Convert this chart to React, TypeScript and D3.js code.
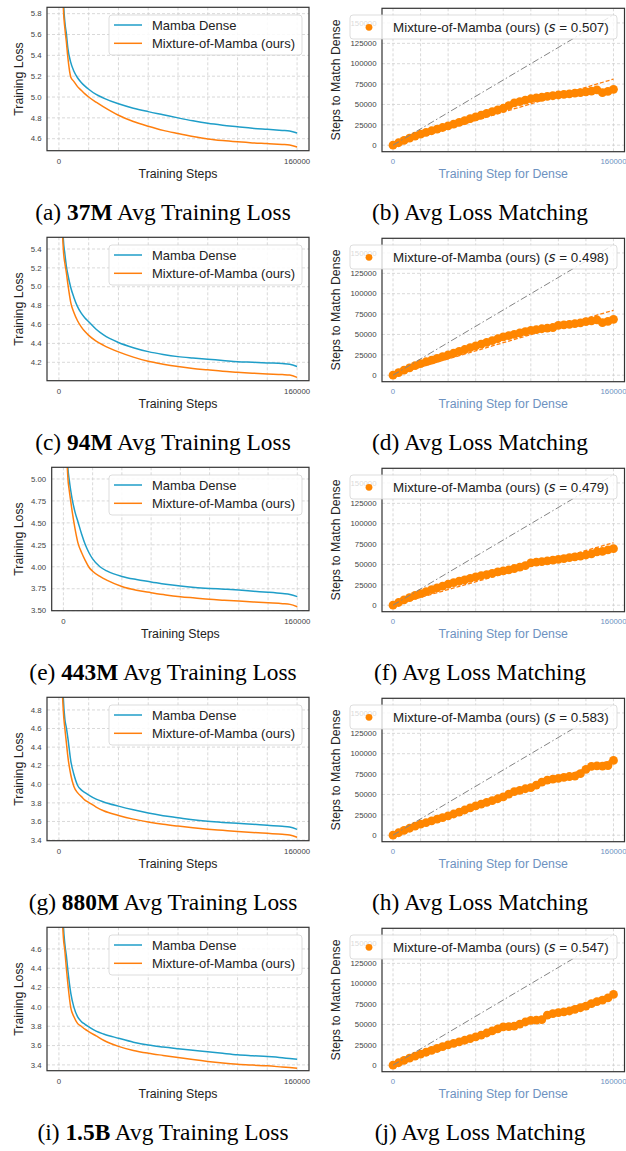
import React from 'react';
import * as d3 from 'd3';

const SANS = '"Liberation Sans", Arial, sans-serif';
const SERIF = '"Liberation Serif", "Times New Roman", serif';
const BLUE = '#1f9ec8';
const ORANGE = '#ff7f0e';
const DOT = '#ff8600';
const STEEL = '#6d92c1';

// training steps for the loss curves
const lossSteps = [1000, 2000, 3000, 4000, 5000, 6000, 8000, 10000, 12500, 15000, 17500, 20000, 25000, 30000,
  40000, 50000, 60000, 70000, 80000, 90000, 100000, 110000, 120000, 130000, 140000, 150000, 155000, 160000];

const dense37M = [8.0, 6.6, 5.95, 5.72, 5.61, 5.47, 5.33, 5.25, 5.185, 5.14, 5.105, 5.075, 5.025, 4.99,
  4.935, 4.893, 4.86, 4.83, 4.80, 4.772, 4.748, 4.73, 4.715, 4.70, 4.69, 4.68, 4.675, 4.655];
const mom37M = [7.8, 6.4, 5.85, 5.66, 5.53, 5.38, 5.19, 5.15, 5.10, 5.065, 5.03, 5.0, 4.95, 4.905,
  4.825, 4.765, 4.72, 4.68, 4.65, 4.622, 4.598, 4.582, 4.57, 4.56, 4.553, 4.545, 4.54, 4.52];
const dense94M = [7.5, 6.0, 5.5, 5.35, 5.22, 5.13, 4.99, 4.89, 4.79, 4.72, 4.67, 4.63, 4.55, 4.49,
  4.41, 4.355, 4.313, 4.283, 4.26, 4.245, 4.232, 4.22, 4.207, 4.2, 4.193, 4.187, 4.18, 4.155];
const mom94M = [7.3, 5.8, 5.39, 5.25, 5.15, 5.03, 4.83, 4.73, 4.64, 4.575, 4.525, 4.485, 4.425, 4.38,
  4.31, 4.255, 4.21, 4.18, 4.155, 4.135, 4.12, 4.105, 4.095, 4.085, 4.077, 4.07, 4.065, 4.04];
const dense443M = [7.0, 5.7, 5.15, 4.99, 4.87, 4.77, 4.62, 4.51, 4.37, 4.25, 4.16, 4.09, 4.0, 3.95,
  3.89, 3.855, 3.828, 3.80, 3.78, 3.765, 3.754, 3.745, 3.735, 3.722, 3.71, 3.695, 3.685, 3.66];
const mom443M = [6.8, 5.5, 5.03, 4.87, 4.75, 4.63, 4.43, 4.27, 4.16, 4.07, 3.995, 3.95, 3.89, 3.845,
  3.775, 3.732, 3.705, 3.68, 3.66, 3.645, 3.63, 3.62, 3.61, 3.6, 3.59, 3.58, 3.572, 3.545];
const dense880M = [6.8, 5.4, 4.92, 4.7, 4.61, 4.5, 4.25, 4.11, 3.99, 3.94, 3.91, 3.885, 3.84, 3.81,
  3.765, 3.725, 3.69, 3.662, 3.64, 3.618, 3.602, 3.59, 3.58, 3.57, 3.558, 3.548, 3.54, 3.515];
const mom880M = [6.6, 5.2, 4.78, 4.6, 4.45, 4.3, 4.1, 3.98, 3.91, 3.87, 3.83, 3.805, 3.755, 3.715,
  3.665, 3.625, 3.595, 3.57, 3.55, 3.532, 3.517, 3.505, 3.493, 3.482, 3.472, 3.462, 3.455, 3.43];
const dense1_5B = [6.6, 5.3, 4.85, 4.65, 4.53, 4.38, 4.14, 4.0, 3.9, 3.85, 3.82, 3.795, 3.75, 3.72,
  3.676, 3.635, 3.605, 3.585, 3.568, 3.552, 3.536, 3.52, 3.505, 3.495, 3.486, 3.474, 3.466, 3.459];
const mom1_5B = [6.4, 5.1, 4.72, 4.58, 4.4, 4.24, 3.99, 3.9, 3.83, 3.8, 3.77, 3.745, 3.7, 3.655,
  3.592, 3.55, 3.521, 3.498, 3.476, 3.455, 3.436, 3.42, 3.407, 3.398, 3.39, 3.378, 3.372, 3.366];

// dense step -> MoM steps needed to match the loss
const matchSteps = [0, 4000, 8000, 12000, 16000, 20000, 24000, 28000, 32000, 36000, 40000, 44000, 48000,
  52000, 56000, 60000, 64000, 68000, 72000, 76000, 80000, 84000, 88000, 92000, 96000, 100000, 104000,
  108000, 112000, 116000, 120000, 124000, 128000, 132000, 136000, 140000, 144000, 148000, 152000, 156000, 160000];
const match37M = [0, 3000, 5800, 8600, 11200, 13500, 15700, 17700, 19700, 21700, 23700, 25900, 28000, 30200,
  32500, 34700, 36900, 39100, 41200, 43300, 45300, 48500, 52000, 53500, 55200, 57000, 58000, 58800, 59800,
  60700, 61600, 62300, 63000, 63800, 64500, 65500, 66300, 68000, 64500, 66000, 68500];
const match94M = [0, 3200, 6200, 9000, 11700, 14300, 16500, 18600, 20700, 22800, 24900, 27100, 29300, 31500,
  33700, 35900, 38100, 40300, 42500, 44700, 46900, 48500, 50200, 51800, 53400, 55000, 56000, 57000, 57800,
  58500, 61200, 61800, 62400, 63200, 64300, 65700, 66600, 68000, 64500, 66000, 68500];
const match443M = [0, 3300, 6400, 9300, 11900, 14300, 16700, 19000, 21300, 23500, 25700, 27600, 29400, 31100,
  33000, 34700, 36200, 37600, 39000, 40800, 42000, 43300, 45000, 46800, 48500, 52000, 52800, 53500, 54300,
  55300, 56300, 57200, 58300, 59200, 60300, 61600, 63000, 65500, 66000, 68000, 69300];
const match880M = [0, 3000, 5800, 8500, 11000, 13500, 15500, 17500, 19600, 21600, 23700, 26000, 28400, 30900,
  33400, 35900, 38100, 40300, 42500, 44700, 46900, 50500, 53500, 55000, 57000, 58300, 61500, 65000, 67500,
  68800, 69700, 71000, 72000, 72600, 75500, 80800, 84500, 85000, 84800, 85500, 91800];
const match1_5B = [0, 3000, 5900, 8600, 11100, 13500, 15900, 18200, 20500, 22700, 24900, 26800, 28600, 30600,
  32700, 34700, 37000, 39500, 42000, 44500, 46900, 47300, 48000, 50500, 53000, 55000, 55300, 56000, 61500,
  63200, 64400, 65500, 66500, 68500, 70500, 72600, 75500, 78000, 79800, 82500, 86900];

const slopes = [0.507, 0.498, 0.479, 0.583, 0.547];
const modelSizes = ['37M', '94M', '443M', '880M', '1.5B'];
const leftTags = ['(a)', '(c)', '(e)', '(g)', '(i)'];
const rightTags = ['(b)', '(d)', '(f)', '(h)', '(j)'];

const gridSteps = [0, 20000, 40000, 60000, 80000, 100000, 120000, 140000, 160000];
const xTickLabels = [0, 160000];
const matchTicks = [0, 25000, 50000, 75000, 100000, 125000, 150000];

const lossTicks = [
  [4.6, 4.8, 5.0, 5.2, 5.4, 5.6, 5.8],
  [4.2, 4.4, 4.6, 4.8, 5.0, 5.2, 5.4],
  [3.5, 3.75, 4.0, 4.25, 4.5, 4.75, 5.0],
  [3.4, 3.6, 3.8, 4.0, 4.2, 4.4, 4.6, 4.8],
  [3.4, 3.6, 3.8, 4.0, 4.2, 4.4, 4.6],
];
const lossDomains = [[4.485, 5.861], [4.005, 5.524], [3.5, 5.133], [3.393, 4.936], [3.34, 4.824]];
const denseSeries = [dense37M, dense94M, dense443M, dense880M, dense1_5B];
const momSeries = [mom37M, mom94M, mom443M, mom880M, mom1_5B];
const matchSeries = [match37M, match94M, match443M, match880M, match1_5B];

const ROW = 230;
const GRID = { stroke: '#cfcfcf', strokeWidth: 0.8, strokeDasharray: '3,2' };

function LossPanel({ i }: { i: number }) {
  const oy = ROW * i;
  const x0 = i === 2 ? 51.7 : 47, x1 = 309;
  const y0 = oy + 7.3, y1 = oy + 150.7;
  const x = d3.scaleLinear().domain([-8000, 168000]).range([x0, x1]);
  const y = d3.scaleLinear().domain(lossDomains[i]).range([y1, y0]);
  const line = d3.line<number>().x((_, k) => x(lossSteps[k])).y(d => y(d)).curve(d3.curveMonotoneX);
  const fmt = i === 2 ? d3.format('.2f') : d3.format('.1f');
  const clip = `lclip${i}`;
  return (
    <g>
      <clipPath id={clip}><rect x={x0} y={y0} width={x1 - x0} height={y1 - y0} /></clipPath>
      {gridSteps.map(s => <line key={'v' + s} x1={x(s)} x2={x(s)} y1={y0} y2={y1} {...GRID} />)}
      {lossTicks[i].map(t => <line key={'h' + t} x1={x0} x2={x1} y1={y(t)} y2={y(t)} {...GRID} />)}
      <g clipPath={`url(#${clip})`}>
        <path d={line(denseSeries[i]) || ''} fill="none" stroke={BLUE} strokeWidth={1.5} />
        <path d={line(momSeries[i]) || ''} fill="none" stroke={ORANGE} strokeWidth={1.5} />
      </g>
      <rect x={x0} y={y0} width={x1 - x0} height={y1 - y0} fill="none" stroke="#333" strokeWidth={1.2} />
      {lossTicks[i].map(t => (
        <text key={'t' + t} x={x0 - 5.5} y={y(t)} dy="0.35em" textAnchor="end" fontSize={7.8} fill="#444" fontFamily={SANS}>{fmt(t)}</text>
      ))}
      {xTickLabels.map(t => (
        <text key={'x' + t} x={x(t)} y={oy + 163.5} textAnchor="middle" fontSize={7.8} fill="#444" fontFamily={SANS}>{t}</text>
      ))}
      <text x={(x0 + x1) / 2} y={oy + 177.5} textAnchor="middle" fontSize={12.3} fill="#222" fontFamily={SANS}>Training Steps</text>
      <text transform={`translate(22.8,${(y0 + y1) / 2}) rotate(-90)`} textAnchor="middle" fontSize={12.3} fill="#222" fontFamily={SANS}>Training Loss</text>
      <rect x={109} y={oy + 15} width={193} height={40} rx={3} fill="#fff" fillOpacity={0.85} stroke="#d4d4d4" strokeWidth={0.8} />
      <line x1={114} x2={142} y1={oy + 25} y2={oy + 25} stroke={BLUE} strokeWidth={1.5} />
      <text x={152} y={oy + 25} dy="0.35em" fontSize={13} fill="#222" fontFamily={SANS}>Mamba Dense</text>
      <line x1={114} x2={142} y1={oy + 43.3} y2={oy + 43.3} stroke={ORANGE} strokeWidth={1.5} />
      <text x={152} y={oy + 43.3} dy="0.35em" fontSize={13} fill="#222" fontFamily={SANS}>Mixture-of-Mamba (ours)</text>
      <text x={163} y={oy + 220} textAnchor="middle" fontSize={23.4} fill="#000" fontFamily={SERIF}>
        {leftTags[i] + ' '}<tspan fontWeight="bold">{modelSizes[i]}</tspan>{' Avg Training Loss'}
      </text>
    </g>
  );
}

function MatchPanel({ i }: { i: number }) {
  const oy = ROW * i;
  const x0 = 382, x1 = 624.5;
  const y0 = oy + 8.3, y1 = oy + 151.7;
  const x = d3.scaleLinear().domain([-8000, 168000]).range([x0, x1]);
  const y = d3.scaleLinear().domain([-8000, 168000]).range([y1, y0]);
  const s = slopes[i];
  const data = matchSteps.map((st, k) => [st, matchSeries[i][k]] as [number, number]);
  return (
    <g>
      {gridSteps.map(st => <line key={'v' + st} x1={x(st)} x2={x(st)} y1={y0} y2={y1} {...GRID} />)}
      {matchTicks.map(t => <line key={'h' + t} x1={x0} x2={x1} y1={y(t)} y2={y(t)} {...GRID} />)}
      <line x1={x(0)} y1={y(0)} x2={x(160000)} y2={y(160000 * s)} stroke={ORANGE} strokeWidth={1.3} strokeDasharray="4,2" />
      {data.map(([a, b]) => <circle key={a} cx={x(a)} cy={y(b)} r={4.4} fill={DOT} />)}
      <line x1={x(0)} y1={y(0)} x2={x(160000)} y2={y(160000)} stroke="#858585" strokeWidth={1} strokeDasharray="7,2.5,1.5,2.5" />
      <rect x={x0} y={y0} width={x1 - x0} height={y1 - y0} fill="none" stroke="#333" strokeWidth={1.2} />
      {matchTicks.map(t => (
        <text key={'t' + t} x={x0 - 5.5} y={y(t)} dy="0.35em" textAnchor="end" fontSize={7.8} fill="#444" fontFamily={SANS}>{t}</text>
      ))}
      {xTickLabels.map(t => (
        <text key={'x' + t} x={x(t)} y={oy + 163.5} textAnchor="middle" fontSize={7.8} fill={STEEL} fontFamily={SANS}>{t}</text>
      ))}
      <text x={(x0 + x1) / 2} y={oy + 178} textAnchor="middle" fontSize={12.3} fill={STEEL} fontFamily={SANS}>Training Step for Dense</text>
      <text transform={`translate(340,${(y0 + y1) / 2}) rotate(-90)`} textAnchor="middle" fontSize={12.3} fill="#222" fontFamily={SANS}>Steps to Match Dense</text>
      <rect x={350} y={oy + 15} width={267} height={24} rx={3} fill="#fff" fillOpacity={0.8} stroke="#d4d4d4" strokeWidth={0.8} />
      <circle cx={369} cy={oy + 27.3} r={3.4} fill={DOT} />
      <text x={393} y={oy + 27.3} dy="0.35em" fontSize={13.4} fill="#222" fontFamily={SANS}>
        {'Mixture-of-Mamba (ours) ('}<tspan fontStyle="italic" fontFamily='"DejaVu Sans", sans-serif'>s</tspan>{' = ' + s.toFixed(3) + ')'}
      </text>
      <text x={480} y={oy + 220} textAnchor="middle" fontSize={23.4} fill="#000" fontFamily={SERIF}>
        {rightTags[i] + ' Avg Loss Matching'}
      </text>
    </g>
  );
}

export default function App() {
  const rows = [0, 1, 2, 3, 4];
  return (
    <svg width={626} height={1151} style={{ position: 'absolute', left: 0, top: 0, background: '#fff' }}>
      <rect width={626} height={1151} fill="#fff" />
      {rows.map(i => <LossPanel key={'l' + i} i={i} />)}
      {rows.map(i => <MatchPanel key={'m' + i} i={i} />)}
    </svg>
  );
}
